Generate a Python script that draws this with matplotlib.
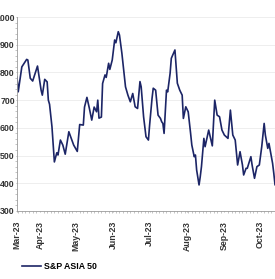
import matplotlib.pyplot as plt
import matplotlib.dates as mdates
from matplotlib.ticker import MultipleLocator
import pandas as pd

# S&P Asia 50 level (turning points)
dates = ['2023-03-13', '2023-03-14', '2023-03-17', '2023-03-21', '2023-03-22', '2023-03-24',
         '2023-03-26', '2023-03-30', '2023-04-02', '2023-04-03', '2023-04-05', '2023-04-07',
         '2023-04-08', '2023-04-09', '2023-04-11', '2023-04-13', '2023-04-15', '2023-04-16',
         '2023-04-18', '2023-04-20', '2023-04-22', '2023-04-25', '2023-04-29', '2023-05-02',
         '2023-05-04', '2023-05-07', '2023-05-08', '2023-05-10', '2023-05-12', '2023-05-14',
         '2023-05-16', '2023-05-18', '2023-05-19', '2023-05-20', '2023-05-22', '2023-05-23',
         '2023-05-25', '2023-05-26', '2023-05-28', '2023-05-29', '2023-05-31', '2023-06-02',
         '2023-06-03', '2023-06-05', '2023-06-06', '2023-06-08', '2023-06-11', '2023-06-13',
         '2023-06-15', '2023-06-17', '2023-06-19', '2023-06-21', '2023-06-23', '2023-06-24',
         '2023-06-26', '2023-06-28', '2023-06-30', '2023-07-01', '2023-07-03', '2023-07-04',
         '2023-07-06', '2023-07-08', '2023-07-10', '2023-07-11', '2023-07-12', '2023-07-13',
         '2023-07-15', '2023-07-16', '2023-07-18', '2023-07-19', '2023-07-22', '2023-07-24',
         '2023-07-26', '2023-07-28', '2023-07-29', '2023-07-31', '2023-08-02', '2023-08-04',
         '2023-08-05', '2023-08-07', '2023-08-08', '2023-08-09', '2023-08-11', '2023-08-12',
         '2023-08-13', '2023-08-15', '2023-08-16', '2023-08-19', '2023-08-22', '2023-08-24',
         '2023-08-26', '2023-08-28', '2023-08-30', '2023-09-01', '2023-09-04', '2023-09-06',
         '2023-09-08', '2023-09-10', '2023-09-12', '2023-09-14', '2023-09-16', '2023-09-17',
         '2023-09-19', '2023-09-20', '2023-09-23', '2023-09-24', '2023-09-26', '2023-09-28',
         '2023-09-30', '2023-10-02', '2023-10-04', '2023-10-05', '2023-10-07', '2023-10-08',
         '2023-10-11', '2023-10-12', '2023-10-13']
values = [783, 730, 820, 847, 845, 779,
          769, 823, 736, 718, 775, 766,
          700, 685, 604, 477, 510, 502,
          556, 538, 505, 586, 538, 515,
          612, 610, 675, 710, 671, 628,
          675, 658, 700, 635, 639, 760,
          791, 782, 833, 811, 845, 917,
          907, 947, 935, 869, 748, 718,
          694, 724, 676, 670, 767, 748,
          640, 568, 556, 610, 706, 743,
          736, 646, 634, 622, 616, 580,
          736, 730, 797, 851, 881, 761,
          736, 718, 634, 676, 658, 580,
          538, 496, 502, 448, 394, 424,
          460, 562, 532, 592, 535, 700,
          646, 640, 592, 574, 562, 664,
          574, 556, 466, 514, 466, 430,
          454, 454, 496, 466, 418, 460,
          466, 532, 616, 574, 526, 544,
          472, 436, 395]

tick_dates = ['2023-03-13', '2023-04-01', '2023-05-01', '2023-06-01', '2023-07-01',
              '2023-08-01', '2023-09-01', '2023-10-01']
y_ticks = [300, 400, 500, 600, 700, 800, 900, 1000]
series_name = 'S&P ASIA 50'

x = pd.to_datetime(dates)

plt.rcParams['font.family'] = ['Liberation Sans', 'DejaVu Sans']

fig = plt.figure(figsize=(2.75, 2.79), dpi=100)
ax = fig.add_axes([17 / 275, 1 - 211 / 279, 1 - 17 / 275, 194 / 279])

line, = ax.plot(x, values, color='#1c2566', linewidth=1.2, label=series_name)

ax.set_ylim(300, 1000)
ax.set_xlim(pd.Timestamp('2023-03-13'), pd.Timestamp('2023-10-13'))
ax.set_yticks(y_ticks)
ax.set_yticklabels([str(v) for v in y_ticks])
ax.yaxis.set_minor_locator(MultipleLocator(20))
ax.set_xticks(pd.to_datetime(tick_dates))
ax.xaxis.set_major_formatter(mdates.DateFormatter('%b-%y'))
ax.xaxis.set_minor_locator(mdates.DayLocator(interval=3))

ax.grid(axis='y', color='#ebebeb', linewidth=0.6)
ax.set_axisbelow(True)
for side in ['top', 'right']:
    ax.spines[side].set_visible(False)
for side in ['left', 'bottom']:
    ax.spines[side].set_color('#9a9a9a')
    ax.spines[side].set_linewidth(0.6)

ax.tick_params(axis='both', which='major', length=1, width=0.5, color='#9a9a9a',
               labelsize=6.3, labelcolor='#333333', pad=0.6)
ax.tick_params(axis='both', which='minor', length=1.2, width=0.4, color='#9a9a9a')
ax.tick_params(axis='x', which='major', pad=6)
for lab in ax.get_xticklabels():
    lab.set_rotation(90)
    lab.set_fontweight('bold')
for lab in ax.get_yticklabels():
    lab.set_fontweight('bold')

fig.legend(handles=[line], loc='lower left', bbox_to_anchor=(0.05, 0.0), frameon=False,
           prop={'size': 6.3, 'weight': 'bold'}, handlelength=2.2, handletextpad=0.4)

fig.savefig('out.png', dpi=100)
